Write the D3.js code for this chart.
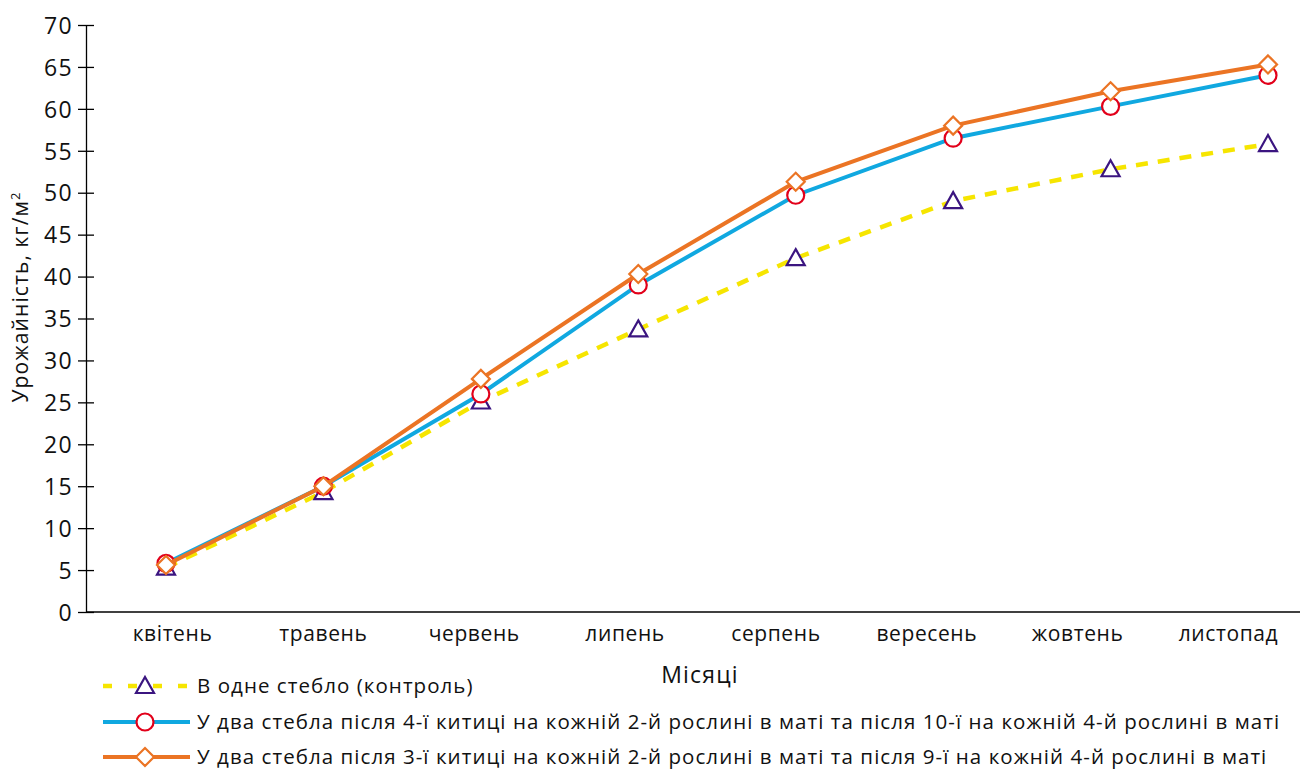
<!DOCTYPE html>
<html><head><meta charset="utf-8">
<script src="https://cdn.jsdelivr.net/npm/d3@7"></script>
<style>body{margin:0;background:#fff}text{font-family:"Open Sans",sans-serif;fill:#111}</style>
</head><body><svg id="c" width="1300" height="769"></svg>
<script>
const months = ["квітень","травень","червень","липень","серпень","вересень","жовтень","листопад"];
const yTicks = [0,5,10,15,20,25,30,35,40,45,50,55,60,65,70];
const control = [5.3, 14.3, 25.1, 33.7, 42.2, 49.0, 52.8, 55.8];
const twoStem4 = [5.8, 15.0, 26.0, 39.0, 49.7, 56.5, 60.3, 64.0];
const twoStem3 = [5.6, 15.0, 27.8, 40.3, 51.3, 58.0, 62.1, 65.3];
const seriesNames = ["В одне стебло (контроль)",
 "У два стебла після 4-ї китиці на кожній 2-й рослині в маті та після 10-ї на кожній 4-й рослині в маті",
 "У два стебла після 3-ї китиці на кожній 2-й рослині в маті та після 9-ї на кожній 4-й рослині в маті"];

const svg = d3.select("#c");
const x = d3.scalePoint().domain(months).range([166,1268]);
const xLab = d3.scalePoint().domain(months).range([172,1228]);
const y = d3.scaleLinear().domain([0,70]).range([612,25]);

// axes
const ya = svg.append("g").attr("transform","translate(86,0)")
  .call(d3.axisLeft(y).tickValues(yTicks).tickSize(8).tickSizeOuter(0));
ya.select(".domain").attr("stroke","#000").attr("stroke-width",1.3);
ya.selectAll(".tick line").attr("x2",8).attr("x1",-8).attr("stroke","#000").attr("stroke-width",1.3);
ya.selectAll(".tick text").attr("x",-13).attr("dy","0.36em").style("font-size","23px").style("letter-spacing","1.3px").style("font-family","'Open Sans',sans-serif").attr("fill","#111");

const xa = svg.append("g").attr("transform","translate(0,612)")
  .call(d3.axisBottom(xLab).tickSize(0).tickSizeOuter(0));
xa.select(".domain").attr("d","M86,0H1300").attr("stroke","#000").attr("stroke-width",1.3);
xa.selectAll(".tick text").attr("y",22).attr("dy","0.34em").style("font-size","21px").style("letter-spacing","0.6px").style("font-family","'Open Sans',sans-serif").attr("fill","#111");

svg.append("text").attr("x",700).attr("y",683).attr("text-anchor","middle").style("font-size","23px").style("letter-spacing","1.2px").text("Місяці");
const yl = svg.append("text").attr("transform","translate(28,297) rotate(-90)").attr("text-anchor","middle").style("font-size","21px").style("letter-spacing","1.1px");
yl.append("tspan").text("Урожайність, кг/м");
yl.append("tspan").attr("dy","-8").style("font-size","13px").text("2");

const line = d3.line().x((d,i)=>x(months[i])).y(d=>y(d));
const C = {yellow:"#f6e500", purple:"#3b1580", blue:"#10a8e0", red:"#e2001a", orange:"#eb7424"};

function tri(g, cx, cy){ g.append("path").attr("d",`M${cx},${cy-9}L${cx+9},${cy+7}L${cx-9},${cy+7}Z`).attr("fill","#fff").attr("stroke",C.purple).attr("stroke-width",2.2); }
function circ(g,cx,cy){ g.append("circle").attr("cx",cx).attr("cy",cy).attr("r",8.5).attr("fill","#fff").attr("stroke",C.red).attr("stroke-width",2.2); }
function dia(g,cx,cy){ g.append("path").attr("d",`M${cx},${cy-9}L${cx+9},${cy}L${cx},${cy+9}L${cx-9},${cy}Z`).attr("fill","#fff").attr("stroke",C.orange).attr("stroke-width",2.2); }

const g = svg.append("g");
g.append("path").attr("d",line(control)).attr("fill","none").attr("stroke",C.yellow).attr("stroke-width",4.5).attr("stroke-dasharray","12,10");
control.forEach((v,i)=>tri(g,x(months[i]),y(v)));
g.append("path").attr("d",line(twoStem4)).attr("fill","none").attr("stroke",C.blue).attr("stroke-width",4);
twoStem4.forEach((v,i)=>circ(g,x(months[i]),y(v)));
g.append("path").attr("d",line(twoStem3)).attr("fill","none").attr("stroke",C.orange).attr("stroke-width",4);
twoStem3.forEach((v,i)=>dia(g,x(months[i]),y(v)));

// legend
const lg = svg.append("g");
const rows = [686,722,757];
lg.append("line").attr("x1",103).attr("x2",190).attr("y1",rows[0]).attr("y2",rows[0]).attr("stroke",C.yellow).attr("stroke-width",4.5).attr("stroke-dasharray","9,16");
tri(lg,145,rows[0]);
lg.append("line").attr("x1",103).attr("x2",190).attr("y1",rows[1]).attr("y2",rows[1]).attr("stroke",C.blue).attr("stroke-width",4);
circ(lg,145,rows[1]);
lg.append("line").attr("x1",103).attr("x2",190).attr("y1",rows[2]).attr("y2",rows[2]).attr("stroke",C.orange).attr("stroke-width",4);
dia(lg,145,rows[2]);
seriesNames.forEach((n,i)=>lg.append("text").attr("x",197).attr("y",rows[i]).attr("dy","0.36em").style("font-size","20.5px").style("letter-spacing","1.05px").text(n));
</script></body></html>
